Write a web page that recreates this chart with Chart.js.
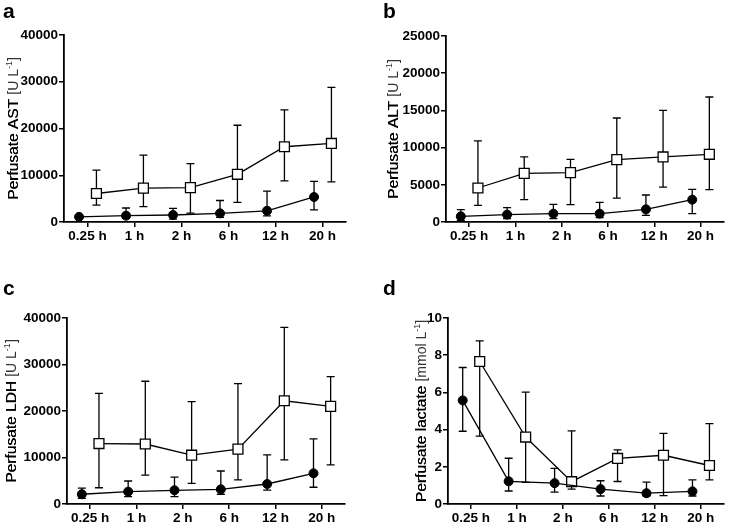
<!DOCTYPE html>
<html>
<head>
<meta charset="utf-8">
<script src="https://cdn.jsdelivr.net/npm/chart.js@4.4.1/dist/chart.umd.min.js"></script>
<style>
  body { margin: 0; background: #fff; }
  #wrap { position: relative; width: 732px; height: 523px; overflow: hidden; }
  canvas { position: absolute; }
  .tag { position: absolute; font: bold 21px "Liberation Sans", Arial, sans-serif; color: #000; line-height: 1; }
</style>
</head>
<body>
<div id="wrap">
  <canvas id="cA" width="366" height="250" style="left:0;top:0"></canvas>
  <canvas id="cB" width="366" height="250" style="left:366px;top:0"></canvas>
  <canvas id="cC" width="366" height="273" style="left:0;top:250px"></canvas>
  <canvas id="cD" width="366" height="273" style="left:366px;top:250px"></canvas>
  <div class="tag" style="left:3px;top:0px">a</div>
  <div class="tag" style="left:383px;top:0px">b</div>
  <div class="tag" style="left:3px;top:277px">c</div>
  <div class="tag" style="left:383px;top:277px">d</div>
</div>
<script>
const times = ['0.25 h', '1 h', '2 h', '6 h', '12 h', '20 h'];

// a - AST
const astCircle   = [1100, 1350, 1500, 1850, 2400, 5350];
const astCircleLo = [900, 800, 600, 1000, 1300, 2600];
const astCircleHi = [1350, 3000, 2900, 4600, 6600, 8700];
const astSquare   = [6100, 7250, 7350, 10200, 16100, 16800];
const astSquareLo = [3600, 3300, 1900, 4200, 8800, 8600];
const astSquareHi = [11100, 14300, 12500, 20700, 24000, 28800];

// b - ALT
const altCircle   = [760, 990, 1120, 1120, 1700, 3000];
const altCircleLo = [200, 450, 450, 580, 900, 1120];
const altCircleHi = [1660, 1930, 2370, 2640, 3630, 4390];
const altSquare   = [4570, 6540, 6630, 8380, 8740, 9100];
const altSquareLo = [2240, 3000, 2330, 3200, 4700, 4350];
const altSquareHi = [10900, 8740, 8420, 13980, 15000, 16800];

// c - LDH
const ldhCircle   = [2100, 2650, 2950, 3150, 4300, 6600];
const ldhCircleLo = [1200, 1600, 1600, 2100, 3000, 3600];
const ldhCircleHi = [3400, 4950, 5800, 7100, 10550, 14000];
const ldhSquare   = [13000, 12900, 10500, 11800, 22200, 21000];
const ldhSquareLo = [3500, 6200, 4450, 5200, 9500, 8400];
const ldhSquareHi = [23800, 26400, 22000, 25900, 38000, 27400];

// d - lactate
const lacCircle   = [5.57, 1.22, 1.12, 0.8, 0.58, 0.68];
const lacCircleLo = [3.91, 0.7, 0.64, 0.43, 0.43, 0.43];
const lacCircleHi = [7.34, 2.46, 1.91, 1.25, 1.18, 1.3];
const lacSquare   = [7.66, 3.6, 1.2, 2.45, 2.62, 2.07];
const lacSquareLo = [3.65, 1.16, 0.8, 1.21, 0.45, 1.3];
const lacSquareHi = [8.77, 6.02, 3.93, 2.91, 3.8, 4.32];

const FONT = '"Liberation Sans", Arial, sans-serif';

// error bars, drawn under the markers
const errorBars = {
  id: 'errorBars',
  beforeDatasetsDraw(chart) {
    const ctx = chart.ctx, ys = chart.scales.y;
    ctx.save();
    ctx.strokeStyle = '#000';
    ctx.lineWidth = 1.3;
    chart.data.datasets.forEach((ds, i) => {
      const meta = chart.getDatasetMeta(i);
      meta.data.forEach((pt, j) => {
        const x = pt.x;
        const y1 = ys.getPixelForValue(ds.lo[j]);
        const y2 = ys.getPixelForValue(ds.hi[j]);
        ctx.beginPath();
        ctx.moveTo(x, y1); ctx.lineTo(x, y2);
        ctx.moveTo(x - 4, y1); ctx.lineTo(x + 4, y1);
        ctx.moveTo(x - 4, y2); ctx.lineTo(x + 4, y2);
        ctx.stroke();
      });
    });
    ctx.restore();
  }
};

// rotated y title: main part + lighter unit with superscript
const yTitle = {
  id: 'yTitle',
  afterDraw(chart, args, opts) {
    const ctx = chart.ctx, a = chart.chartArea;
    ctx.save();
    ctx.translate(opts.x, (a.top + a.bottom) / 2);
    ctx.rotate(-Math.PI / 2);
    ctx.textBaseline = 'alphabetic';
    ctx.fillStyle = '#000';
    const f1 = '15.5px ' + FONT, f2 = '14px ' + FONT, f3 = '9px ' + FONT;
    ctx.font = f1; const w1 = ctx.measureText(opts.main + ' ').width;
    ctx.font = f2; const w2 = ctx.measureText(opts.unit).width;
    ctx.font = f3; const w3 = ctx.measureText('-1').width;
    ctx.font = f2; const w4 = ctx.measureText(']').width;
    let x = -(w1 + w2 + w3 + w4) / 2;
    const base = 5;
    ctx.font = f1; ctx.fillText(opts.main + ' ', x, base);
    ctx.fillText(opts.main, x + 0.4, base); x += w1;
    ctx.fillStyle = '#333';
    ctx.font = f2; ctx.fillText(opts.unit, x, base); x += w2;
    ctx.font = f3; ctx.fillText('-1', x, base - 6); x += w3;
    ctx.font = f2; ctx.fillText(']', x, base);
    ctx.restore();
  }
};

function makePanel(id, box, circ, circLo, circHi, sq, sqLo, sqHi, yMax, yStep, main, unit, titleX) {
  const canvas = document.getElementById(id);
  const H = canvas.height;
  const circPts = circ.map((v, i) => ({ x: i - 0.18, y: v }));
  const sqPts = sq.map((v, i) => ({ x: i + 0.19, y: v }));
  new Chart(canvas, {
    type: 'line',
    data: {
      datasets: [
        {
          data: circPts, lo: circLo, hi: circHi,
          borderColor: '#000', borderWidth: 1.3, backgroundColor: '#000',
          pointStyle: 'circle', pointRadius: 4.5, pointBackgroundColor: '#000',
          pointBorderColor: '#000', pointBorderWidth: 1, tension: 0, clip: false
        },
        {
          data: sqPts, lo: sqLo, hi: sqHi,
          borderColor: '#000', borderWidth: 1.3, backgroundColor: '#fff',
          pointStyle: 'rect', pointRadius: 7, pointBackgroundColor: '#fff',
          pointBorderColor: '#000', pointBorderWidth: 1.3, tension: 0, clip: false
        }
      ]
    },
    options: {
      responsive: false,
      animation: false,
      devicePixelRatio: 1,
      layout: { padding: { top: box.top, right: canvas.width - box.right, left: 0, bottom: 0 } },
      plugins: {
        legend: { display: false },
        tooltip: { enabled: false },
        yTitle: { x: titleX, main: main, unit: unit }
      },
      scales: {
        x: {
          type: 'linear', min: -0.5, max: 5.5,
          afterBuildTicks: s => { s.ticks = times.map((t, i) => ({ value: i })); },
          afterFit: s => { s.height = H - box.bottom; },
          ticks: {
            callback: v => times[v], color: '#000', padding: 1, maxRotation: 0, autoSkip: false,
            font: { family: FONT, size: 13.5, weight: 'bold' }
          },
          grid: { drawOnChartArea: false, drawTicks: true, tickLength: 5, color: '#000', lineWidth: 1.5 },
          border: { color: '#000', width: 1.8 }
        },
        y: {
          min: 0, max: yMax,
          afterFit: s => { s.width = box.left; },
          ticks: {
            stepSize: yStep, color: '#000', padding: 1,
            callback: v => String(v),
            font: { family: FONT, size: 13.5, weight: 'bold' }
          },
          grid: { drawOnChartArea: false, drawTicks: true, tickLength: 5, color: '#000', lineWidth: 1.5 },
          border: { color: '#000', width: 1.8 }
        }
      }
    },
    plugins: [errorBars, yTitle]
  });
}

makePanel('cA', { left: 64, right: 346, top: 35, bottom: 222 },
  astCircle, astCircleLo, astCircleHi, astSquare, astSquareLo, astSquareHi,
  40000, 10000, 'Perfusate AST', '[U L', 13);
makePanel('cB', { left: 80, right: 363, top: 36, bottom: 222 },
  altCircle, altCircleLo, altCircleHi, altSquare, altSquareLo, altSquareHi,
  25000, 5000, 'Perfusate ALT', '[U L', 27);
makePanel('cC', { left: 67, right: 345, top: 68, bottom: 254 },
  ldhCircle, ldhCircleLo, ldhCircleHi, ldhSquare, ldhSquareLo, ldhSquareHi,
  40000, 10000, 'Perfusate LDH', '[U L', 11);
makePanel('cD', { left: 82, right: 365, top: 68, bottom: 254 },
  lacCircle, lacCircleLo, lacCircleHi, lacSquare, lacSquareLo, lacSquareHi,
  10, 2, 'Perfusate lactate', '[mmol L', 55);
</script>
</body>
</html>
